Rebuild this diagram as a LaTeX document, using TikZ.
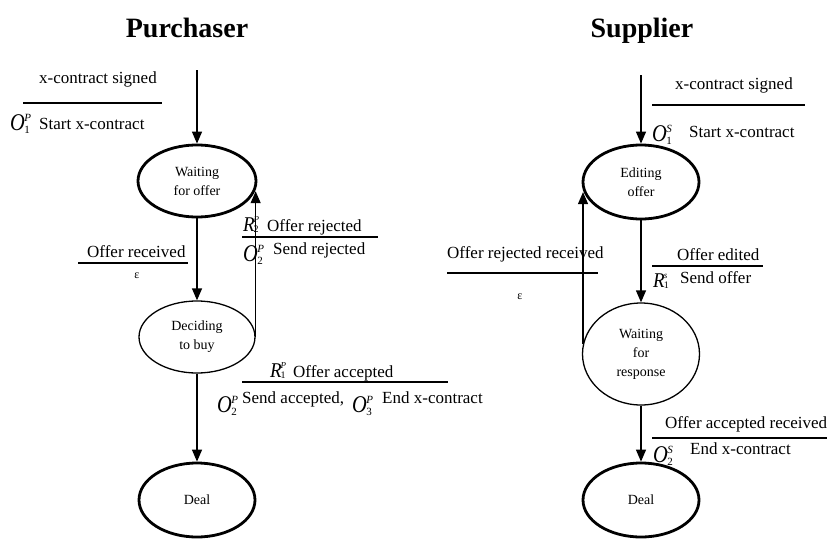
\documentclass[tikz,border=0pt]{standalone}
\usepackage{fontspec}
\setmainfont{Liberation Serif}
\usetikzlibrary{shapes.geometric,arrows.meta}

% italic symbol with stacked subscript and superscript, e.g. O_1^P;
% the last argument lowers the whole symbol below the text baseline
\newcommand{\tsym}[4]{\raisebox{-#4}{\scalebox{0.85}[1]{\fontsize{24}{24}\selectfont\itshape #1}\kern-0.5pt\rlap{\raisebox{9pt}{\fontsize{11}{11}\selectfont\itshape #3}}\raisebox{-3.5pt}{\fontsize{11}{11}\selectfont #2}}}
\newcommand{\rsym}[4]{\raisebox{-#4}{\scalebox{0.9}[1]{\fontsize{21}{21}\selectfont\itshape #1}\kern-1pt\rlap{\raisebox{8.5pt}{\fontsize{9}{9}\selectfont\itshape #3}}\raisebox{-1pt}{\fontsize{10}{10}\selectfont #2}}}

\begin{document}
\begin{tikzpicture}[x=1pt,y=-1pt,
  state/.style={ellipse, draw, inner sep=0pt, align=center,
    font=\fontsize{14}{19}\selectfont, minimum width=116pt, minimum height=72pt},
  boldstate/.style={state, line width=2.8pt},
  plainstate/.style={state, line width=1.3pt},
  arr/.style={-{Triangle[length=12pt,width=10pt]}, line width=1.3pt},
  lbl/.style={anchor=base west, inner sep=0pt, font=\fontsize{17}{20}\selectfont},
  eps/.style={inner sep=0pt, font=\fontsize{12}{12}\selectfont},
  bar/.style={line width=1.6pt},
  title/.style={anchor=base, inner sep=0pt, font=\fontsize{28}{30}\selectfont\bfseries}]

\useasboundingbox (0,0) rectangle (827,538);

% column titles
\node[title] (tp) at (187,37) {Purchaser};
\node[title] (ts) at (642,37) {Supplier};

% ---------- purchaser states ----------
\node[boldstate, minimum width=118pt] (wo) at (197,181) {Waiting\\for offer};
\node[plainstate] (db) at (197,337) {Deciding\\to buy};
\node[boldstate, minimum height=74pt] (dp) at (197,500) {Deal};
\coordinate (ps) at (197,70);

\draw[arr] (ps) -- (wo.north);
\draw[arr] (wo.south) -- (db.north);
\draw[arr] (db.south) -- (dp.north);
\draw[arr] (db.east) -- (db.east |- wo.-10);

% purchaser transition labels
\node[lbl] (p1a) at (39,83) {x-contract signed};
\draw[bar] (23,103) -- (162,103);
\node[lbl] (p1s) at (10,129) {\tsym{O}{1}{P}{1pt}};
\node[lbl] (p1b) at (39,129) {Start x-contract};

\node[lbl] (p2a) at (87,257) {Offer received};
\draw[bar] (78,263) -- (188,263);
\node[eps] (p2b) at (137,276) {ε};

\node[lbl] (p3s) at (243,231) {\rsym{R}{2}{P}{0pt}};
\node[lbl] (p3a) at (267,231) {Offer rejected};
\draw[bar] (242,237) -- (378,237);
\node[lbl] (p3t) at (243,254) {\tsym{O}{2}{P}{7pt}};
\node[lbl] (p3b) at (273,254) {Send rejected};

\node[lbl] (p4s) at (270,377) {\rsym{R}{1}{P}{0pt}};
\node[lbl] (p4a) at (293,377) {Offer accepted};
\draw[bar] (242,382) -- (448,382);
\node[lbl] (p4t) at (217,403) {\tsym{O}{2}{P}{9pt}};
\node[lbl] (p4b) at (242,403) {Send accepted,};
\node[lbl] (p4u) at (352,403) {\tsym{O}{3}{P}{9pt}};
\node[lbl] (p4c) at (382,403) {End x-contract};

% ---------- supplier states ----------
\node[boldstate, minimum height=74pt] (eo) at (641,182) {Editing\\offer};
\node[plainstate, minimum width=117pt, minimum height=102pt] (wr) at (641,354) {Waiting\\for\\response};
\node[boldstate, minimum height=74pt] (ds) at (641,500) {Deal};
\coordinate (ss) at (641,75);

\draw[arr] (ss) -- (eo.north);
\draw[arr] (eo.south) -- (wr.north);
\draw[arr] (wr.south) -- (ds.north);
\draw[arr] (wr.170) -- (wr.170 |- eo.190);

% supplier transition labels
\node[lbl] (s1a) at (675,89) {x-contract signed};
\draw[bar] (652,105) -- (805,105);
\node[lbl] (s1s) at (652,137) {\tsym{O}{1}{S}{4pt}};
\node[lbl] (s1b) at (689,137) {Start x-contract};

\node[lbl] (s2a) at (447,258) {Offer rejected received};
\draw[bar] (447,273) -- (598,273);
\node[eps] (s2b) at (520,297) {ε};

\node[lbl] (s3a) at (677,260) {Offer edited};
\draw[bar] (652,266) -- (763,266);
\node[lbl] (s3s) at (653,283) {\rsym{R}{1}{s}{4pt}};
\node[lbl] (s3b) at (680,283) {Send offer};

\node[lbl] (s4a) at (665,428) {Offer accepted received};
\draw[bar] (652,438) -- (827,438);
\node[lbl] (s4s) at (653,454) {\tsym{O}{2}{S}{8pt}};
\node[lbl] (s4b) at (690,454) {End x-contract};

\end{tikzpicture}
\end{document}
